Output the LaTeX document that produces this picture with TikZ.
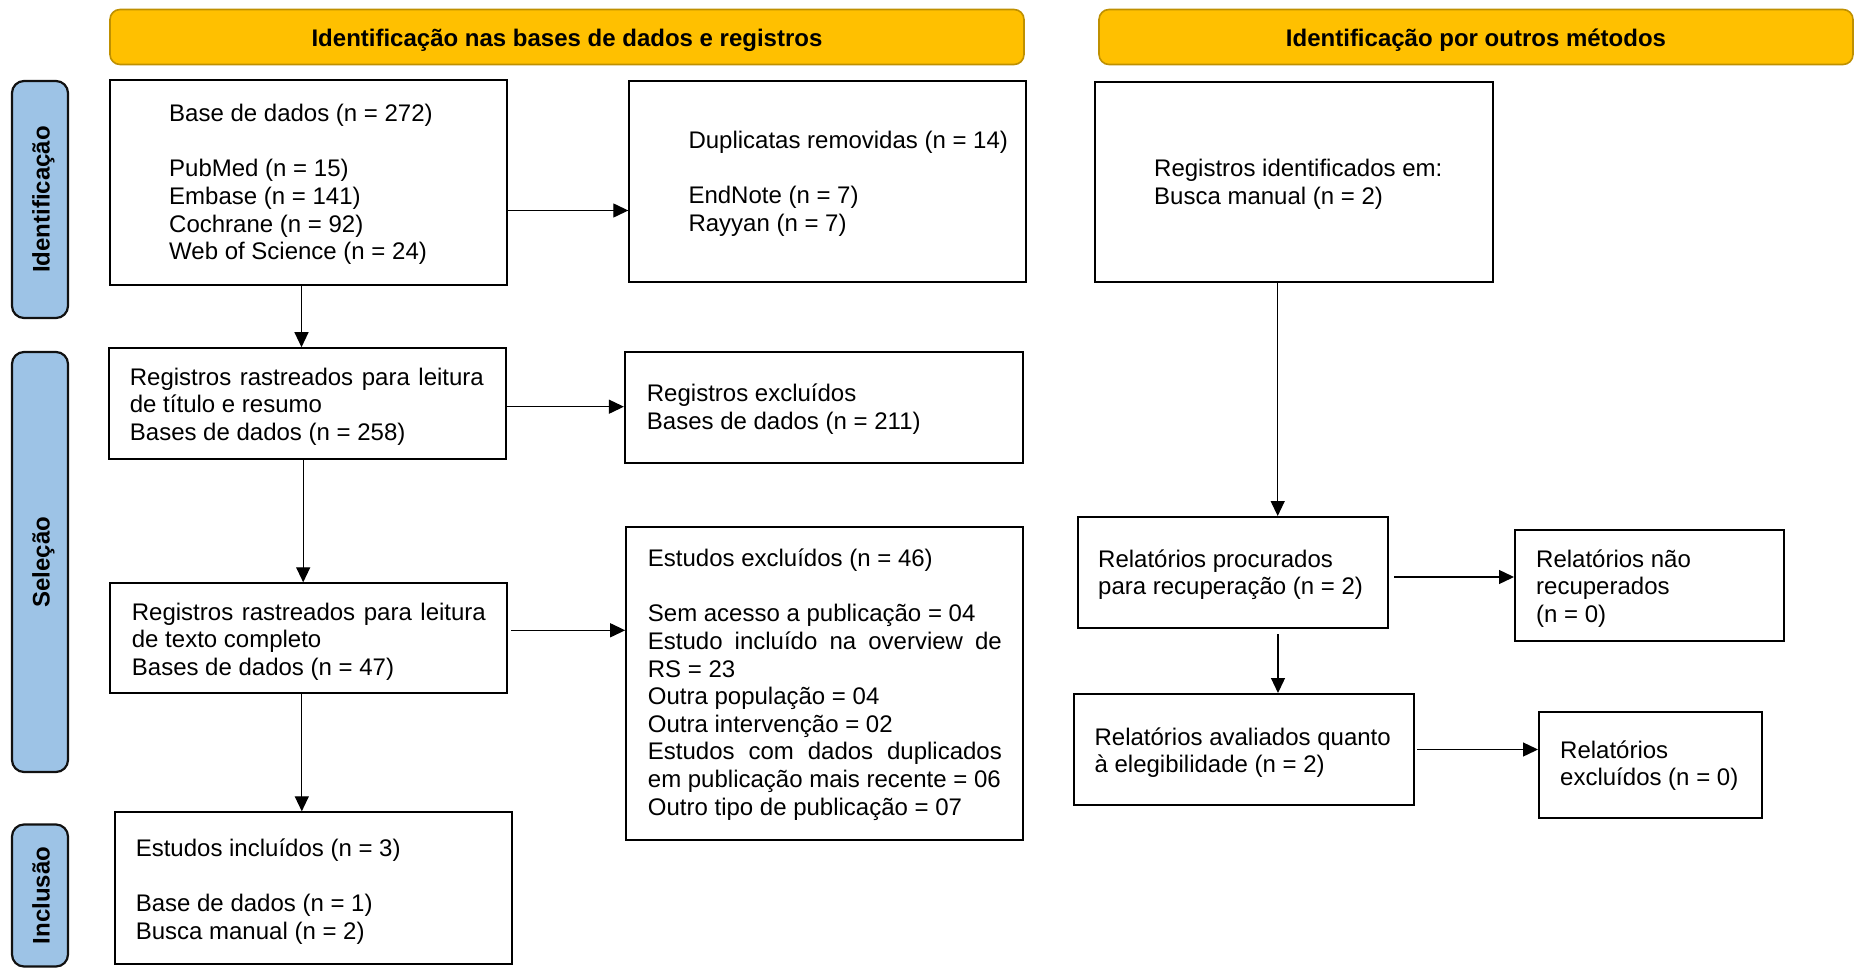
\documentclass[tikz,border=0pt]{standalone}
\usepackage{fontspec}
\setmainfont{Liberation Sans}
\usetikzlibrary{arrows.meta}
\definecolor{hdrfill}{HTML}{FFC000}
\definecolor{hdrline}{HTML}{BF9000}
\definecolor{sidefill}{HTML}{9DC3E6}
\definecolor{sideline}{HTML}{111111}
\newcommand{\bodyfont}{\fontsize{24}{27.6}\selectfont}
\newcommand{\jline}[1]{\makebox[354pt][s]{#1}}
\tikzset{
  box/.style={draw=black, line width=2pt, fill=white, inner sep=0pt},
  hdr/.style={draw=hdrline, line width=1.6pt, fill=hdrfill, rounded corners=10pt, inner sep=0pt},
  side/.style={draw=sideline, line width=2.2pt, fill=sidefill, rounded corners=12pt, inner sep=0pt},
  hdrtext/.style={font=\bodyfont\bfseries, inner sep=0pt, anchor=base},
  sidetext/.style={font=\bodyfont\bfseries, inner sep=0pt, rotate=90, anchor=base},
  txt/.style={font=\bodyfont, inner sep=0pt, anchor=base west},
  arr/.style={line width=1.3pt, -{Triangle[length=15pt,width=14pt]}}
}
\begin{document}
\begin{tikzpicture}[x=1pt,y=-1pt]
\useasboundingbox (0,0) rectangle (1854,968);
\clip (0,0) rectangle (1854,968);
\fill[white] (0,0) rectangle (1854,968);

% headers
\node[hdr, minimum width=914pt, minimum height=55pt] (H1) at (567,37) {};
\node[hdrtext] (H1t) at ([yshift=-9.5pt]H1.center) {Identificação nas bases de dados e registros};
\node[hdr, minimum width=754pt, minimum height=55pt] (H2) at (1476,37) {};
\node[hdrtext] (H2t) at ([yshift=-9.5pt]H2.center) {Identificação por outros métodos};

% side labels
\node[side, minimum width=56pt, minimum height=237pt] (S1) at (40,199.5) {};
\node[sidetext] (S1t) at ([xshift=9.5pt]S1.center) {Identificação};
\node[side, minimum width=56pt, minimum height=420pt] (S2) at (40,562) {};
\node[sidetext] (S2t) at ([xshift=9.5pt]S2.center) {Seleção};
\node[side, minimum width=56pt, minimum height=142pt] (S3) at (40,895.5) {};
\node[sidetext] (S3t) at ([xshift=9.5pt]S3.center) {Inclusão};

% boxes
\node[box, minimum width=397pt, minimum height=205pt] (A) at (308.5,182.5) {};
\node[txt] (At) at (169,121.7) {\begin{tabular}[t]{@{}l@{}}Base de dados (n = 272)\\ \\ PubMed (n = 15)\\ Embase (n = 141)\\ Cochrane (n = 92)\\ Web of Science (n = 24)\end{tabular}};

\node[box, minimum width=397pt, minimum height=201pt] (B) at (827.8,181.2) {};
\node[txt] (Bt) at (688.3,148.3) {\begin{tabular}[t]{@{}l@{}}Duplicatas removidas (n = 14)\\ \\ EndNote (n = 7)\\ Rayyan (n = 7)\end{tabular}};

\node[box, minimum width=398pt, minimum height=200pt] (C) at (1293.7,181.8) {};
\node[txt] (Ct) at (1154,176.7) {\begin{tabular}[t]{@{}l@{}}Registros identificados em:\\ Busca manual (n = 2)\end{tabular}};

\node[box, minimum width=397pt, minimum height=111pt] (D) at (307.2,403.7) {};
\node[txt] (Dt) at (129.7,385) {\begin{tabular}[t]{@{}l@{}}\jline{Registros rastreados para leitura}\\ de título e resumo\\ Bases de dados (n = 258)\end{tabular}};

\node[box, minimum width=398pt, minimum height=111pt] (E) at (823.9,407.2) {};
\node[txt] (Et) at (646.7,401.7) {\begin{tabular}[t]{@{}l@{}}Registros excluídos\\ Bases de dados (n = 211)\end{tabular}};

\node[box, minimum width=397pt, minimum height=110pt] (F) at (308.8,638.3) {};
\node[txt] (Ft) at (131.7,620) {\begin{tabular}[t]{@{}l@{}}\jline{Registros rastreados para leitura}\\ de texto completo\\ Bases de dados (n = 47)\end{tabular}};

\node[box, minimum width=397pt, minimum height=313pt] (G) at (824.7,683) {};
\node[txt] (Gt) at (647.7,566.7) {\begin{tabular}[t]{@{}l@{}}Estudos excluídos (n = 46)\\ \\ Sem acesso a publicação = 04\\ \jline{Estudo incluído na overview de}\\ RS = 23\\ Outra população = 04\\ Outra intervenção = 02\\ \jline{Estudos com dados duplicados}\\ em publicação mais recente = 06\\ Outro tipo de publicação = 07\end{tabular}};

\node[box, minimum width=397pt, minimum height=152pt] (H) at (313.4,888.3) {};
\node[txt] (Ht) at (135.6,856.7) {\begin{tabular}[t]{@{}l@{}}Estudos incluídos (n = 3)\\ \\ Base de dados (n = 1)\\ Busca manual (n = 2)\end{tabular}};

\node[box, minimum width=310pt, minimum height=111pt] (I) at (1233,572.5) {};
\node[txt] (It) at (1098,567.3) {\begin{tabular}[t]{@{}l@{}}Relatórios procurados\\ para recuperação (n = 2)\end{tabular}};

\node[box, minimum width=269pt, minimum height=111pt] (J) at (1649.5,585.5) {};
\node[txt] (Jt) at (1536,567.3) {\begin{tabular}[t]{@{}l@{}}Relatórios não\\ recuperados\\ (n = 0)\end{tabular}};

\node[box, minimum width=340pt, minimum height=111pt] (K) at (1244,749.5) {};
\node[txt] (Kt) at (1094.4,745) {\begin{tabular}[t]{@{}l@{}}Relatórios avaliados quanto\\ à elegibilidade (n = 2)\end{tabular}};

\node[box, minimum width=223pt, minimum height=106pt] (L) at (1650.5,765) {};
\node[txt] (Lt) at (1560,758.3) {\begin{tabular}[t]{@{}l@{}}Relatórios\\ excluídos (n = 0)\end{tabular}};

% arrows
\draw[arr] ([xshift=-7pt]A.south) -- ([xshift=-7pt]A.south |- D.north);
\draw[arr] ([yshift=-28pt]A.east) -- ([yshift=-28pt]A.east -| B.west);
\draw[arr] ([yshift=-3pt]D.east) -- ([yshift=-3pt]D.east -| E.west);
\draw[arr] ([xshift=-4pt]D.south) -- ([xshift=-4pt]D.south |- F.north);
\draw[arr] ([xshift=3pt,yshift=8pt]F.east) -- ([yshift=8pt]F.east -| G.west);
\draw[arr] ([xshift=-7pt]F.south) -- ([xshift=-7pt]F.south |- H.north);
\draw[arr] ([xshift=-16pt]C.south) -- ([xshift=-16pt]C.south |- I.north);
\draw[arr] ([xshift=5pt,yshift=-4.5pt]I.east) -- ([yshift=-4.5pt]I.east -| J.west);
\draw[arr] ([xshift=45pt,yshift=-5pt]I.south) -- ([xshift=45pt]I.south |- K.north);
\draw[arr] ([xshift=2pt]K.east) -- (K.east -| L.west);
\end{tikzpicture}
\end{document}
